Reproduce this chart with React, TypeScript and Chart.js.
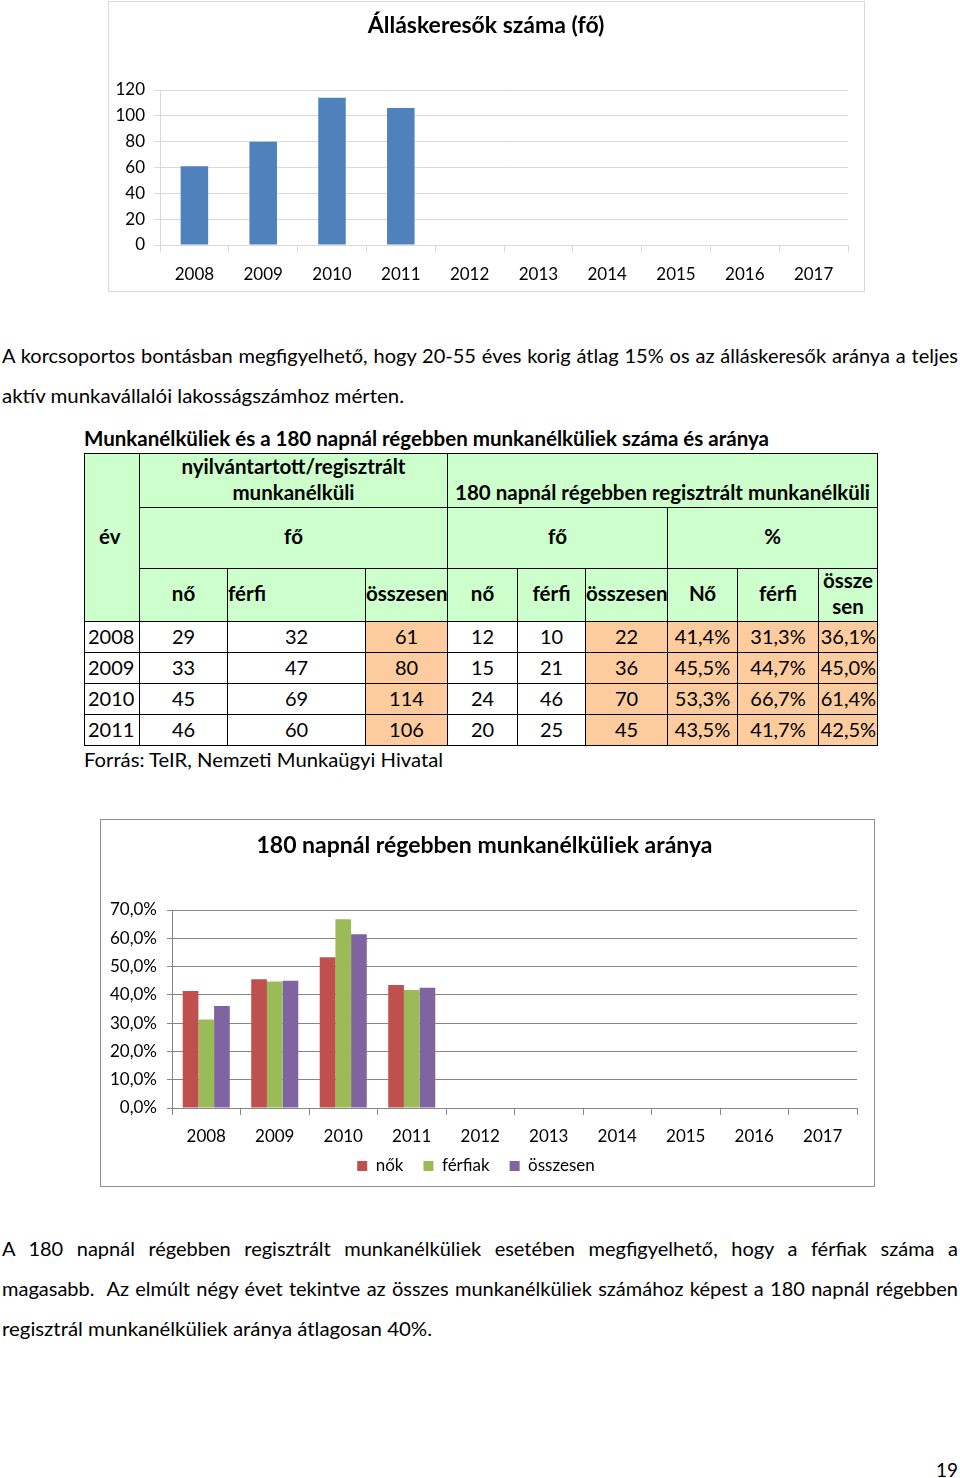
import React, { useEffect, useLayoutEffect, useRef } from 'react';
import { Chart, registerables } from 'chart.js';

Chart.register(...registerables);

const FONT = 'Lato, Carlito, "Open Sans", sans-serif';

// ---------- data ----------
const chartYears = ['2008', '2009', '2010', '2011', '2012', '2013', '2014', '2015', '2016', '2017'];
const tableYears = ['2008', '2009', '2010', '2011'];
const noTotal = [29, 33, 45, 46];
const ferfiTotal = [32, 47, 69, 60];
const osszTotal = [61, 80, 114, 106];
const no180 = [12, 15, 24, 20];
const ferfi180 = [10, 21, 46, 25];
const ossz180 = [22, 36, 70, 45];
const pctNo = [41.4, 45.5, 53.3, 43.5];
const pctFerfi = [31.3, 44.7, 66.7, 41.7];
const pctOssz = [36.1, 45.0, 61.4, 42.5];
const seriesNames = ['nők', 'férfiak', 'összesen'];
const topTitle = 'Álláskeresők száma (fő)';
const bottomTitle = '180 napnál régebben munkanélküliek aránya';

const fmtPct = (v: number) => v.toFixed(1).replace('.', ',') + '%';

// ---------- helpers ----------
function TextLine(props: { x: number; y: number; w: number; size: number; text: string; justify?: boolean; bold?: boolean }) {
  const { x, y, w, size, text, justify = false, bold = false } = props;
  const ref = useRef<HTMLSpanElement>(null);
  useLayoutEffect(() => {
    const el = ref.current;
    if (!el) return;
    el.style.transform = 'none';
    el.style.wordSpacing = '0px';
    const nat = el.getBoundingClientRect().width;
    const spaces = (text.match(/ /g) || []).length;
    if (justify && nat < w && spaces > 0) {
      el.style.wordSpacing = (w - nat) / spaces + 'px';
    } else if (nat > 0) {
      el.style.transform = `scaleX(${w / nat})`;
    }
  }, [text, w]);
  return (
    <span
      ref={ref}
      style={{
        position: 'absolute',
        left: x,
        top: y - size * 0.66,
        fontSize: size,
        lineHeight: `${size * 1.2}px`,
        whiteSpace: 'pre',
        transformOrigin: '0 0',
        fontWeight: bold ? 700 : 400,
        fontFamily: FONT,
        color: '#000',
      }}
    >
      {text}
    </span>
  );
}

function ChartCanvas(props: { make: () => any; left: number; top: number; width: number; height: number }) {
  const { make, left, top, width, height } = props;
  const ref = useRef<HTMLCanvasElement>(null);
  useEffect(() => {
    const chart = new Chart(ref.current as HTMLCanvasElement, make());
    return () => chart.destroy();
  }, []);
  return (
    <canvas
      ref={ref}
      width={width}
      height={height}
      style={{ position: 'absolute', left, top, width, height }}
    />
  );
}

// an empty right-hand axis used only to reserve space at the right of the plot
const spacerAxis = (w: number) => ({
  position: 'right',
  display: true,
  grid: { display: false, drawTicks: false },
  border: { display: false },
  ticks: { display: false },
  afterFit: (s: any) => {
    s.width = w;
  },
});

// ---------- chart configs ----------
const topConfig = () => ({
  type: 'bar',
  data: {
    labels: chartYears,
    datasets: [
      {
        label: 'összesen',
        data: osszTotal,
        backgroundColor: '#4F81BD',
        barPercentage: 0.4,
        categoryPercentage: 1,
      },
    ],
  },
  options: {
    animation: false,
    responsive: false,
    maintainAspectRatio: false,
    layout: { padding: { left: 0, right: 0, top: 0, bottom: 0 } },
    plugins: {
      legend: { display: false },
      tooltip: { enabled: false },
      title: {
        display: true,
        text: topTitle,
        color: '#000',
        font: { family: FONT, size: 23, weight: 'bold' },
        padding: { top: 10.5, bottom: 50.9 },
      },
    },
    scales: {
      x: {
        grid: { display: true, drawOnChartArea: false, drawTicks: true, tickLength: 7, color: '#d9d9d9', offset: true },
        border: { display: true, color: '#d9d9d9' },
        ticks: { color: '#000', font: { family: FONT, size: 17 }, padding: 12, maxRotation: 0, autoSkip: false },
        afterFit: (s: any) => {
          s.height = 46;
        },
      },
      y: {
        min: 0,
        max: 120,
        ticks: { stepSize: 20, color: '#000', font: { family: FONT, size: 17 }, padding: 9 },
        grid: { color: '#d9d9d9', tickLength: 6 },
        border: { display: true, color: '#d9d9d9' },
        afterFit: (s: any) => {
          s.width = 52;
        },
      },
      yRight: spacerAxis(16),
    },
  },
});

const bottomConfig = () => ({
  type: 'bar',
  data: {
    labels: chartYears,
    datasets: [
      { label: seriesNames[0], data: pctNo, backgroundColor: '#C0504D', barPercentage: 1, categoryPercentage: 0.687 },
      { label: seriesNames[1], data: pctFerfi, backgroundColor: '#9BBB59', barPercentage: 1, categoryPercentage: 0.687 },
      { label: seriesNames[2], data: pctOssz, backgroundColor: '#8064A2', barPercentage: 1, categoryPercentage: 0.687 },
    ],
  },
  options: {
    animation: false,
    responsive: false,
    maintainAspectRatio: false,
    layout: { padding: { left: 0, right: 5, top: 0, bottom: 1.5 } },
    plugins: {
      tooltip: { enabled: false },
      title: {
        display: true,
        text: bottomTitle,
        color: '#000',
        font: { family: FONT, size: 23, weight: 'bold' },
        padding: { top: 12.5, bottom: 50.9 },
      },
      legend: {
        display: true,
        position: 'bottom',
        labels: {
          color: '#000',
          font: { family: FONT, size: 17 },
          boxWidth: 10,
          boxHeight: 10,
          padding: 11.5,
          generateLabels: (chart: any) => {
            const items = Chart.defaults.plugins.legend.labels.generateLabels(chart);
            return items.map((it: any, i: number) => ({
              ...it,
              text: it.text + (i === items.length - 1 ? '\u2002\u2002' : '\u2002'),
            }));
          },
        },
      },
    },
    scales: {
      x: {
        grid: { display: true, drawOnChartArea: false, drawTicks: true, tickLength: 7, color: '#868686', offset: true },
        border: { display: true, color: '#868686' },
        ticks: { color: '#000', font: { family: FONT, size: 17 }, padding: 11, maxRotation: 0, autoSkip: false },
        afterFit: (s: any) => {
          s.height = 38;
        },
      },
      y: {
        min: 0,
        max: 70,
        ticks: { stepSize: 10, color: '#000', font: { family: FONT, size: 17 }, padding: 10, callback: (v: any) => fmtPct(Number(v)) },
        grid: { color: '#868686', tickLength: 5 },
        border: { display: true, color: '#868686' },
        afterFit: (s: any) => {
          s.width = 72;
        },
      },
      yRight: spacerAxis(12),
    },
  },
});

// ---------- table ----------
const GREEN = '#CCFFCC';
const ORANGE = '#FCCB9E';
const colWidths = [55, 88, 138, 82, 70, 68, 82, 70, 81, 59];

const cellBase: React.CSSProperties = {
  border: '1px solid #000',
  padding: 0,
  fontFamily: FONT,
  color: '#000',
  whiteSpace: 'nowrap',
  overflow: 'visible',
};

const Up = (props: { by: number; children: React.ReactNode }) => (
  <span style={{ position: 'relative', top: -props.by }}>{props.children}</span>
);

function DataTable() {
  const hdr = (extra: React.CSSProperties = {}): React.CSSProperties => ({
    ...cellBase,
    background: GREEN,
    fontWeight: 700,
    fontSize: 20.5,
    textAlign: 'center',
    verticalAlign: 'middle',
    ...extra,
  });
  const dat = (bg: string, extra: React.CSSProperties = {}): React.CSSProperties => ({
    ...cellBase,
    background: bg,
    fontSize: 20,
    textAlign: 'center',
    verticalAlign: 'middle',
    lineHeight: '29px',
    ...extra,
  });
  return (
    <table
      style={{
        position: 'absolute',
        left: 84,
        top: 453,
        borderCollapse: 'collapse',
        tableLayout: 'fixed',
        width: 793,
      }}
    >
      <colgroup>
        {colWidths.map((w, i) => (
          <col key={i} style={{ width: w }} />
        ))}
      </colgroup>
      <tbody>
        <tr style={{ height: 54 }}>
          <td rowSpan={3} style={hdr({ textAlign: 'left', paddingLeft: 14 })}>
            <Up by={2}>év</Up>
          </td>
          <td colSpan={3} style={hdr({ lineHeight: '26px', whiteSpace: 'normal' })}>
            <Up by={2}>
              nyilvántartott/regisztrált
              <br />
              munkanélküli
            </Up>
          </td>
          <td colSpan={6} style={hdr({ lineHeight: '26px', verticalAlign: 'bottom' })}>
            <Up by={2}>180 napnál régebben regisztrált munkanélküli</Up>
          </td>
        </tr>
        <tr style={{ height: 61 }}>
          <td colSpan={3} style={hdr()}>
            <Up by={2}>fő</Up>
          </td>
          <td colSpan={3} style={hdr()}>
            <Up by={2}>fő</Up>
          </td>
          <td colSpan={3} style={hdr()}>
            <Up by={2}>%</Up>
          </td>
        </tr>
        <tr style={{ height: 53 }}>
          <td style={hdr()}>
            <Up by={2}>nő</Up>
          </td>
          <td style={hdr({ textAlign: 'left' })}>
            <Up by={2}>férfi</Up>
          </td>
          <td style={hdr()}>
            <Up by={2}>összesen</Up>
          </td>
          <td style={hdr()}>
            <Up by={2}>nő</Up>
          </td>
          <td style={hdr()}>
            <Up by={2}>férfi</Up>
          </td>
          <td style={hdr()}>
            <Up by={2}>összesen</Up>
          </td>
          <td style={hdr()}>
            <Up by={2}>Nő</Up>
          </td>
          <td style={hdr()}>
            <Up by={2}>férfi</Up>
          </td>
          <td style={hdr({ lineHeight: '26px' })}>
            <Up by={2}>
              össze
              <br />
              sen
            </Up>
          </td>
        </tr>
        {tableYears.map((yr, i) => (
          <tr key={yr} style={{ height: 31 }}>
            <td style={dat('#fff', { textAlign: 'left', paddingLeft: 3 })}>
              <Up by={1}>{yr}</Up>
            </td>
            <td style={dat('#fff')}>
              <Up by={1}>{noTotal[i]}</Up>
            </td>
            <td style={dat('#fff')}>
              <Up by={1}>{ferfiTotal[i]}</Up>
            </td>
            <td style={dat(ORANGE)}>
              <Up by={1}>{osszTotal[i]}</Up>
            </td>
            <td style={dat('#fff')}>
              <Up by={1}>{no180[i]}</Up>
            </td>
            <td style={dat('#fff')}>
              <Up by={1}>{ferfi180[i]}</Up>
            </td>
            <td style={dat(ORANGE)}>
              <Up by={1}>{ossz180[i]}</Up>
            </td>
            <td style={dat(ORANGE)}>
              <Up by={1}>{fmtPct(pctNo[i])}</Up>
            </td>
            <td style={dat(ORANGE)}>
              <Up by={1}>{fmtPct(pctFerfi[i])}</Up>
            </td>
            <td style={dat(ORANGE, { textAlign: 'right', paddingRight: 1 })}>
              <Up by={1}>{fmtPct(pctOssz[i])}</Up>
            </td>
          </tr>
        ))}
      </tbody>
    </table>
  );
}

// ---------- page ----------
export default function App() {
  return (
    <div
      style={{
        position: 'absolute',
        left: 0,
        top: 0,
        width: 960,
        height: 1478,
        background: '#fff',
        overflow: 'hidden',
        fontFamily: FONT,
      }}
    >
      {/* top chart */}
      <div
        style={{
          position: 'absolute',
          left: 108,
          top: 1,
          width: 757,
          height: 291,
          boxSizing: 'border-box',
          border: '1px solid #d9d9d9',
        }}
      />
      <ChartCanvas make={topConfig} left={108} top={1} width={756} height={290} />

      {/* paragraph 1 */}
      <TextLine
        x={2}
        y={356}
        w={956}
        size={20}
        justify
        text="A korcsoportos bontásban megfigyelhető, hogy 20-55 éves korig átlag 15% os az álláskeresők aránya a teljes"
      />
      <TextLine x={2} y={396} w={402} size={20} text="aktív munkavállalói lakosságszámhoz mérten." />

      {/* table */}
      <TextLine
        x={84}
        y={439}
        w={685}
        size={20}
        bold
        text="Munkanélküliek és a 180 napnál régebben munkanélküliek száma és aránya"
      />
      <DataTable />
      <TextLine x={84} y={760} w={359} size={20} text="Forrás: TeIR, Nemzeti Munkaügyi Hivatal" />

      {/* bottom chart */}
      <div
        style={{
          position: 'absolute',
          left: 100,
          top: 819,
          width: 775,
          height: 368,
          boxSizing: 'border-box',
          border: '1px solid #8e8e8e',
        }}
      />
      <ChartCanvas make={bottomConfig} left={100} top={819} width={774} height={367} />

      {/* paragraph 2 */}
      <TextLine
        x={2}
        y={1249}
        w={956}
        size={20}
        justify
        text="A 180 napnál régebben regisztrált munkanélküliek esetében megfigyelhető, hogy a férfiak száma a"
      />
      <TextLine
        x={2}
        y={1289}
        w={956}
        size={20}
        justify
        text="magasabb.  Az elmúlt négy évet tekintve az összes munkanélküliek számához képest a 180 napnál régebben"
      />
      <TextLine x={2} y={1329} w={430} size={20} text="regisztrál munkanélküliek aránya átlagosan 40%." />

      <TextLine x={936} y={1470} w={22} size={20} text="19" />
    </div>
  );
}
